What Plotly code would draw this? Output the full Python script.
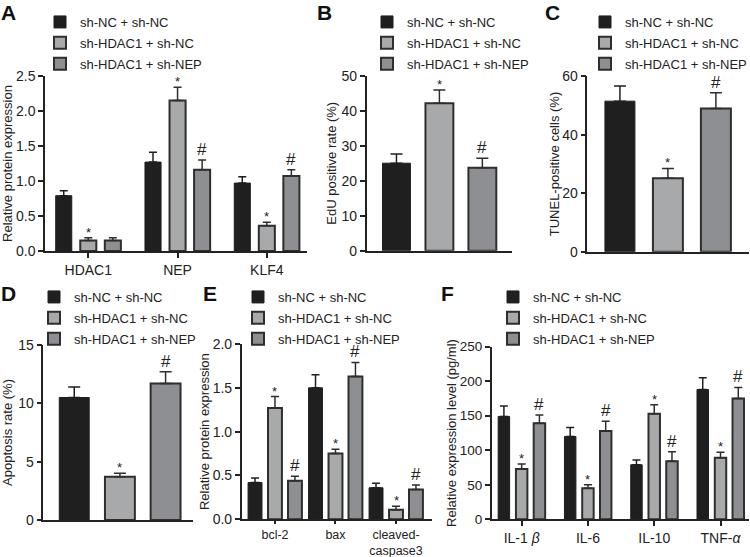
import plotly.graph_objects as go

W, H = 750, 557
FONT = "Liberation Sans, Arial, sans-serif"
INK = "#222222"

groups = ["sh-NC + sh-NC", "sh-HDAC1 + sh-NC", "sh-HDAC1 + sh-NEP"]
fills = ["#1f1f1f", "#a8a9ab", "#8d8f92"]
edges = ["#1f1f1f", "#2e2e2e", "#2e2e2e"]

# ---- Panel A: relative protein expression ----
a_cats = ["HDAC1", "NEP", "KLF4"]
a_nc_nc = [0.79, 1.27, 0.97]
a_hd_nc = [0.15, 2.15, 0.36]
a_hd_nep = [0.15, 1.16, 1.07]
a_err_nc_nc = [0.07, 0.14, 0.09]
a_err_hd_nc = [0.04, 0.19, 0.05]
a_err_hd_nep = [0.04, 0.14, 0.09]
a_marks = [["", "", ""], ["*", "*", "*"], ["", "#", "#"]]

# ---- Panel B: EdU positive rate ----
b_vals = [25.0, 42.1, 23.7]
b_errs = [2.6, 3.8, 2.7]
b_marks = ["", "*", "#"]

# ---- Panel C: TUNEL-positive cells ----
c_vals = [51.5, 25.1, 49.0]
c_errs = [5.2, 3.4, 5.4]
c_marks = ["", "*", "#"]

# ---- Panel D: apoptosis rate ----
d_vals = [10.5, 3.7, 11.7]
d_errs = [0.9, 0.3, 1.0]
d_marks = ["", "*", "#"]

# ---- Panel E: relative protein expression ----
e_cats = ["bcl-2", "bax", "cleaved-<br>caspase3"]
e_nc_nc = [0.42, 1.50, 0.36]
e_hd_nc = [1.27, 0.75, 0.11]
e_hd_nep = [0.44, 1.63, 0.34]
e_err_nc_nc = [0.05, 0.15, 0.05]
e_err_hd_nc = [0.13, 0.05, 0.04]
e_err_hd_nep = [0.05, 0.16, 0.05]
e_marks = [["", "", ""], ["*", "*", "*"], ["#", "#", "#"]]

# ---- Panel F: cytokine levels ----
f_cats = ["IL-1 <i>β</i>", "IL-6", "IL-10", "TNF-<i>α</i>"]
f_nc_nc = [149, 120, 79, 188]
f_hd_nc = [73, 45, 153, 89]
f_hd_nep = [139, 128, 84, 175]
f_err_nc_nc = [15, 13, 7, 17]
f_err_hd_nc = [7, 5, 13, 8]
f_err_hd_nep = [12, 14, 14, 16]
f_marks = [["", "", "", ""], ["*", "*", "*", "*"], ["#", "#", "#", "#"]]

fig = go.Figure()
annotations = []


def fx(px):
    return px / W


def fy(py):
    return 1 - py / H


def add_panel(n, cats, series, errs, marks, yrange, dtick, fmt, xrange,
              bw, step, ytitle, standoff, dom_x, dom_y, legend_xy, letter_xy,
              letter, single=False, xticklen=5, xtickfont=14, ytickfont=14):
    xa = "x" if n == 1 else f"x{n}"
    ya = "y" if n == 1 else f"y{n}"
    lg = "legend" if n == 1 else f"legend{n}"
    for i in range(3):
        if single:
            xs = [cats[i]]
            ys = [series[i]]
            es = [errs[i]]
            off = -bw / 2
        else:
            xs = cats
            ys = series[i]
            es = errs[i]
            off = -bw / 2 + (i - 1) * step
        fig.add_trace(go.Bar(
            x=xs, y=ys, name=groups[i], width=bw, offset=off,
            marker=dict(color=fills[i], line=dict(color=edges[i], width=2 if i else 1)),
            error_y=dict(type="data", array=es, arrayminus=[0] * len(es),
                         symmetric=False, color=edges[i], thickness=1.5,
                         width=4 if bw < 0.3 else 6),
            xaxis=xa, yaxis=ya, legend=lg, legendgroup=f"{n}-{i}",
            showlegend=True,
        ))
        mk = [marks[i]] if single else marks[i]
        for j, m in enumerate(mk):
            if not m:
                continue
            xpos = i if single else j + (i - 1) * step
            top = ys[j] + es[j]
            annotations.append(dict(
                x=xpos, y=top, xref=xa, yref=ya, text=m, showarrow=False,
                xanchor="center", yanchor="bottom",
                yshift=-4 if m == "*" else -1,
                font=dict(family=FONT, size=13 if m == "*" else 17, color=INK),
            ))
    axkey = "xaxis" if n == 1 else f"xaxis{n}"
    aykey = "yaxis" if n == 1 else f"yaxis{n}"
    fig.layout[axkey] = dict(
        domain=[fx(dom_x[0]), fx(dom_x[1])], anchor=ya, type="category",
        range=xrange, showline=True, linewidth=1.5, linecolor=INK,
        showgrid=False, zeroline=False,
        ticks="" if single else "outside", ticklen=xticklen, tickwidth=1.5,
        tickcolor=INK, showticklabels=not single,
        tickfont=dict(family=FONT, size=xtickfont, color=INK),
    )
    fig.layout[aykey] = dict(
        domain=[fy(dom_y[1]), fy(dom_y[0])], anchor=xa, range=yrange,
        dtick=dtick, tick0=0, tickformat=fmt, showline=True, linewidth=1.5,
        linecolor=INK, showgrid=False, zeroline=False, ticks="outside",
        ticklen=5, tickwidth=1.5, tickcolor=INK,
        tickfont=dict(family=FONT, size=ytickfont, color=INK),
        title=dict(text=ytitle, standoff=standoff,
                   font=dict(family=FONT, size=13, color=INK)),
    )
    fig.layout[lg] = dict(
        x=fx(legend_xy[0]), y=fy(legend_xy[1]), xanchor="left", yanchor="top",
        bgcolor="rgba(0,0,0,0)", borderwidth=0, tracegroupgap=1,
        traceorder="grouped",
        font=dict(family=FONT, size=13, color=INK),
    )
    annotations.append(dict(
        x=fx(letter_xy[0]), y=fy(letter_xy[1]), xref="paper", yref="paper",
        text=f"<b>{letter}</b>", showarrow=False, xanchor="left", yanchor="top",
        font=dict(family=FONT, size=21, color="#111111"),
    ))


add_panel(1, a_cats, [a_nc_nc, a_hd_nc, a_hd_nep],
          [a_err_nc_nc, a_err_hd_nc, a_err_hd_nep], a_marks,
          [0, 2.5], 0.5, ".1f", [-0.485, 2.45], 0.18, 0.275,
          "Relative protein expression", 4, (45, 307), (76, 251),
          (40, 7), (-1, -1), "A")
add_panel(2, groups, b_vals, b_errs, b_marks, [0, 50], 10, "d",
          [-0.693, 2.69], 0.65, 0, "EdU positive rate (%)", 2,
          (366.7, 512), (75.7, 250.7), (367, 7), (315, -1), "B", single=True)
add_panel(3, groups, c_vals, c_errs, c_marks, [0, 60], 20, "d",
          [-0.68, 2.69], 0.625, 0, "TUNEL-positive cells (%)", 0,
          (587.3, 749), (76.3, 251.7), (585, 7), (543, -1), "C", single=True)
add_panel(4, groups, d_vals, d_errs, d_marks, [0, 15], 5, "d",
          [-0.677, 2.6], 0.655, 0, "Apoptosis rate (%)", 4,
          (43.3, 193), (345, 520), (34, 282), (-1, 280), "D", single=True)
add_panel(5, e_cats, [e_nc_nc, e_hd_nc, e_hd_nep],
          [e_err_nc_nc, e_err_hd_nc, e_err_hd_nep], e_marks,
          [0, 2.0], 0.5, ".1f", [-0.55, 2.595], 0.23, 0.33,
          "Relative protein expression", 0, (241.7, 432), (344, 519.3),
          (238, 282), (201, 280), "E", xticklen=3, xtickfont=12.5)
add_panel(6, f_cats, [f_nc_nc, f_hd_nc, f_hd_nep],
          [f_err_nc_nc, f_err_hd_nc, f_err_hd_nep], f_marks,
          [0, 250], 50, "d", [-0.452, 3.43], 0.173, 0.268,
          "Relative expression level (pg/ml)", 0, (491.7, 749), (346.7, 519.3),
          (493, 282), (439, 280), "F", ytickfont=13.5)

fig.update_layout(
    width=W, height=H,
    margin=dict(l=0, r=0, t=0, b=0, autoexpand=False),
    paper_bgcolor="white", plot_bgcolor="white",
    barmode="overlay", annotations=annotations,
    font=dict(family=FONT, color=INK),
)
fig.write_html("out.html",
               config={"displayModeBar": False},
               post_script="document.body.style.margin='0';"
                           "document.body.style.overflow='hidden';")
